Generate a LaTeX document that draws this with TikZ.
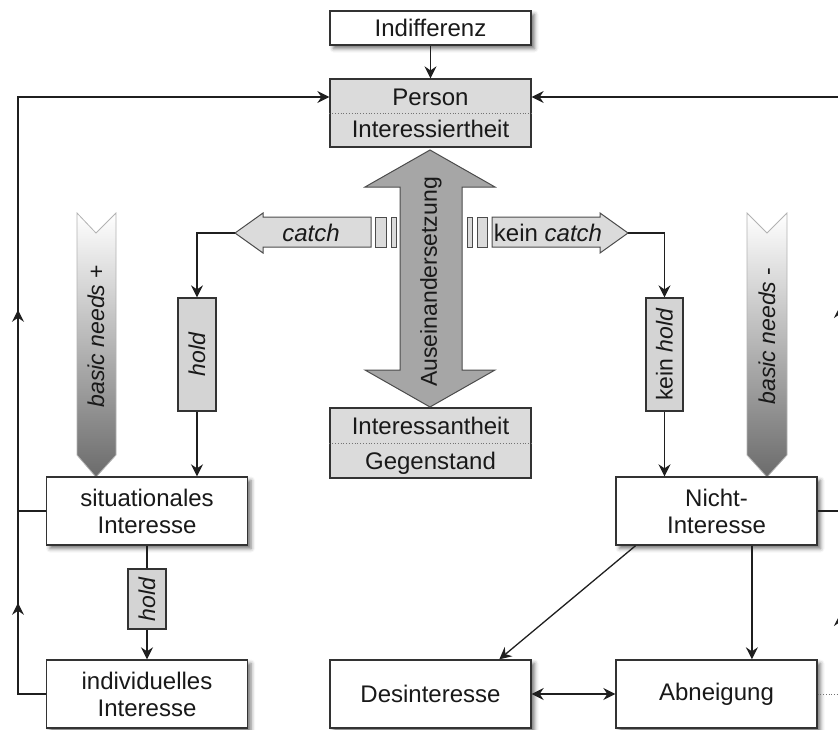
\documentclass[tikz,border=0pt]{standalone}
\usepackage{fontspec}
\usepackage{graphicx}
\setmainfont{Liberation Sans}
\usetikzlibrary{arrows.meta,shadows.blur,decorations.markings,calc}

\colorlet{edgeGrey}{black!80}
\colorlet{lineGrey}{black!88}
\colorlet{paleGrey}{black!14}
\colorlet{holdGrey}{black!17}
\colorlet{bigGrey}{black!35}

\begin{document}
\begin{tikzpicture}[x=1pt,y=-1pt,
  >={Stealth[length=12pt,width=12pt,inset=4pt]},
  conn/.style={draw=lineGrey,line width=1.3pt},
  arr/.style={conn,->},
  txt/.style={font=\fontsize{24}{27}\selectfont,inner sep=0pt,align=center,text=black!90},
  rtxt/.style={font=\fontsize{23}{26}\selectfont,inner sep=0pt,text=black!90},
  box/.style={txt,draw=edgeGrey,line width=1.4pt,fill=white,minimum width=201pt,minimum height=68pt,
    blur shadow={shadow xshift=3.5pt,shadow yshift=-3.5pt,shadow blur radius=4pt,shadow opacity=55}},
  greybox/.style={draw=edgeGrey,line width=1.3pt,fill=paleGrey,minimum width=201pt,inner sep=0pt},
  holdbox/.style={rtxt,draw=edgeGrey,line width=1.3pt,fill=holdGrey,minimum width=38pt},
  flatarrow/.style={draw=black!70,line width=1pt,fill=paleGrey},
  chevron/.style={top color=white,bottom color=black!58,draw=black!30,line width=0.8pt},
  divider/.style={draw=black!55,dotted,line width=0.8pt},
  loopmarks/.style 2 args={postaction={decorate},decoration={markings,
    mark=at position #1 with {\arrow{Stealth[length=12pt,width=12pt,inset=4pt]}},
    mark=at position #2 with {\arrow{Stealth[length=12pt,width=12pt,inset=4pt]}}}}
]
\useasboundingbox (0,0) rectangle (838,729);

% ---- central boxes ----
\node[box,minimum height=34pt] (ind) at (430.5,28) {Indifferenz};

\node[greybox,minimum height=68pt] (person) at (430.5,113) {};
\draw[divider] (person.west) -- (person.east);
\node[txt,anchor=base] (personT) at (430.5,105.5) {Person};
\node[txt,anchor=base] (interT) at (430.5,137) {Interessiertheit};

\node[greybox,minimum height=70pt] (gegen) at (430.5,443) {};
\draw[divider] (gegen.west) -- (gegen.east);
\node[txt,anchor=base] (antT) at (430.5,434) {Interessantheit};
\node[txt,anchor=base] (gegT) at (430.5,469) {Gegenstand};

% ---- double arrow ----
\draw[draw=black!70,line width=1pt,fill=bigGrey]
  (430,150) -- (495,187) -- (462,187) -- (462,370) -- (495,370) -- (430,407)
  -- (365,370) -- (400,370) -- (400,187) -- (365,187) -- cycle;
\node[rtxt,rotate=90] (ausT) at (431,282) {Auseinandersetzung};

% ---- catch / kein catch ----
\draw[flatarrow] (235,233) -- (263,213) -- (263,217) -- (371,217) -- (371,247)
  -- (263,247) -- (263,253) -- cycle;
\draw[flatarrow] (375,217) rectangle (386,247);
\draw[flatarrow] (391,217) rectangle (396,247);
\coordinate (catchTip) at (235,233);
\node[txt,font=\fontsize{24}{27}\selectfont\itshape] (catchT) at (311,233) {catch};

\draw[flatarrow] (628,233) -- (600,213) -- (600,217) -- (492,217) -- (492,247)
  -- (600,247) -- (600,253) -- cycle;
\draw[flatarrow] (467,217) rectangle (472,247);
\draw[flatarrow] (477,217) rectangle (487,247);
\coordinate (kcatchTip) at (628,233);
\node[txt] (kcatchT) at (548,233) {kein \textit{catch}};

% ---- hold boxes ----
\node[holdbox,minimum height=113pt] (hold1) at (197,354.5) {\rotatebox{90}{\textit{hold}}};
\node[holdbox,minimum height=113pt,minimum width=37pt] (khold) at (664.5,354.5) {\rotatebox{90}{kein \textit{hold}}};
\node[holdbox,minimum height=60pt] (hold2) at (147,599) {\rotatebox{90}{\textit{hold}}};

% ---- basic needs ----
\shadedraw[chevron] (77,213) -- (96,233) -- (116,213) -- (116,455) -- (96,477) -- (77,455) -- cycle;
\node[rtxt,rotate=90] (bnPlus) at (96,336) {\textit{basic needs} +};
\shadedraw[chevron] (747,213) -- (767,233) -- (787,213) -- (787,455) -- (767,477) -- (747,455) -- cycle;
\node[rtxt,rotate=90] (bnMinus) at (767,336) {\textit{basic needs} -};

% ---- outcome boxes ----
\node[box] (sit) at (147,511) {situationales\\Interesse};
\node[box] (indiv) at (147,694) {individuelles\\Interesse};
\node[box] (nicht) at (716.5,511) {Nicht-\\Interesse};
\node[box] (des) at (430.5,694) {Desinteresse};
\node[box] (abn) at (716.5,694) {Abneigung};

% ---- connectors ----
\draw[arr] (ind) -- (person);

\draw[arr] (catchTip) -| (hold1.north);
\draw[arr] (hold1.south) -- (hold1.south |- sit.north);
\draw[arr] (kcatchTip) -| (khold.north);
\draw[arr] (khold.south) -- (khold.south |- nicht.north);

\draw[conn] (sit.south) -- (hold2.north);
\draw[arr] (hold2.south) -- (indiv.north);

\draw[arr] ($(nicht.south west)!0.1!(nicht.south east)$) -- ($(des.north west)!0.84!(des.north east)$);
\coordinate (nAb) at ($(nicht.south west)!0.675!(nicht.south east)$);
\draw[arr] (nAb) -- (nAb |- abn.north);
\draw[conn,<->] (des) -- (abn);

% ---- feedback loops ----
\coordinate (LT) at (18,97);
\coordinate (LB) at (18,694);
\coordinate (RT) at (840,97);
\coordinate (RB) at (840,694);

\draw[conn] (sit.west) -- (sit.west -| LT);
\draw[arr,loopmarks={119pt}{412pt}] (indiv.west) -- (LB) -- (LT) -- (person.west |- LT);

\draw[conn] (nicht.east) -- (nicht.east -| RT);
\draw[divider,line width=0.7pt] (abn.east) -- (RB);
\draw[arr,loopmarks={80pt}{388pt}] (RB) -- (RT) -- (person.east |- RT);
\end{tikzpicture}
\end{document}
